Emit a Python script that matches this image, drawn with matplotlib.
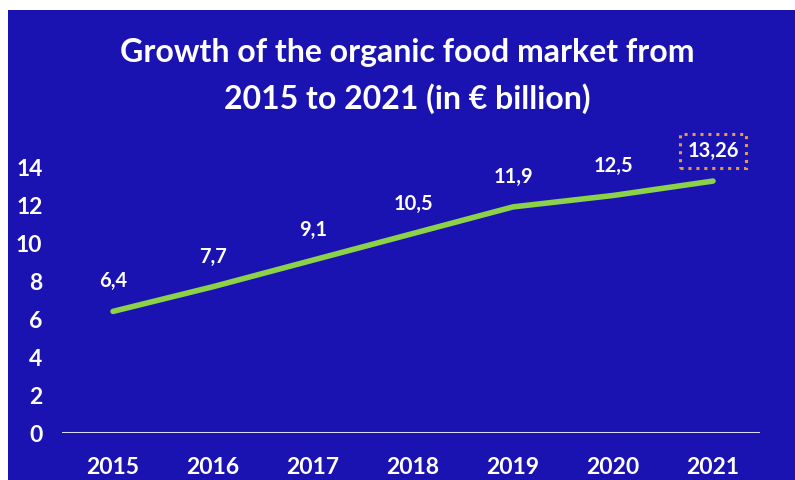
import matplotlib.pyplot as plt
from matplotlib.patches import Rectangle

# data
years = [2015, 2016, 2017, 2018, 2019, 2020, 2021]
values = [6.4, 7.7, 9.1, 10.5, 11.9, 12.5, 13.26]
y_ticks = [0, 2, 4, 6, 8, 10, 12, 14]
title = "Growth of the organic food market from\n2015 to 2021 (in € billion)"

BLUE = "#1a13b1"
GREEN = "#8cd248"
plt.rcParams['font.family'] = ['Lato', 'DejaVu Sans']

W, H = 795, 480
fig = plt.figure(figsize=(W / 100, H / 100), dpi=100, facecolor="white")

# blue panel with thin white margin on left/top
fig.patches.append(Rectangle((8 / W, 0), 1, (H - 10) / H, transform=fig.transFigure,
                             facecolor=BLUE, edgecolor="none", zorder=-5))

fig.text(407 / W, 1 - 76 / H, title, ha="center", va="center", color="white",
         fontsize=23, fontweight="bold", linespacing=1.6)

ax = fig.add_axes([62 / W, (H - 433) / H, (760 - 62) / W, 285 / H])
ax.set_facecolor("none")
ax.set_xlim(2014.49, 2021.47)
ax.set_ylim(0, 15)

ax.plot(years, values, color=GREEN, lw=4, solid_capstyle="round", zorder=3)
ax.axhline(0, color="#dcdcf6", lw=2.2, zorder=2)

for i, (x, v) in enumerate(zip(years, values)):
    lbl = f"{v:g}".replace(".", ",")
    kw = {}
    if i == len(years) - 1:
        kw["bbox"] = dict(boxstyle="square,pad=0.35", facecolor="none",
                          edgecolor="#e89a3c", linestyle=(0, (1, 1.6)), lw=2.2)
    ax.annotate(lbl, (x, v), xytext=(0, 30), textcoords="offset pixels",
                ha="center", va="center", color="white", fontsize=14.5,
                fontweight="bold", **kw)

ax.set_xticks(years)
ax.set_xticklabels([str(y) for y in years])
ax.set_yticks(y_ticks)
ax.tick_params(axis="both", length=0, labelcolor="white", labelsize=16.5)
ax.tick_params(axis="x", pad=17)
ax.tick_params(axis="y", pad=14)
for t in ax.get_xticklabels() + ax.get_yticklabels():
    t.set_fontweight("bold")
for s in ax.spines.values():
    s.set_visible(False)

fig.savefig("out.png", dpi=100, facecolor="white")
